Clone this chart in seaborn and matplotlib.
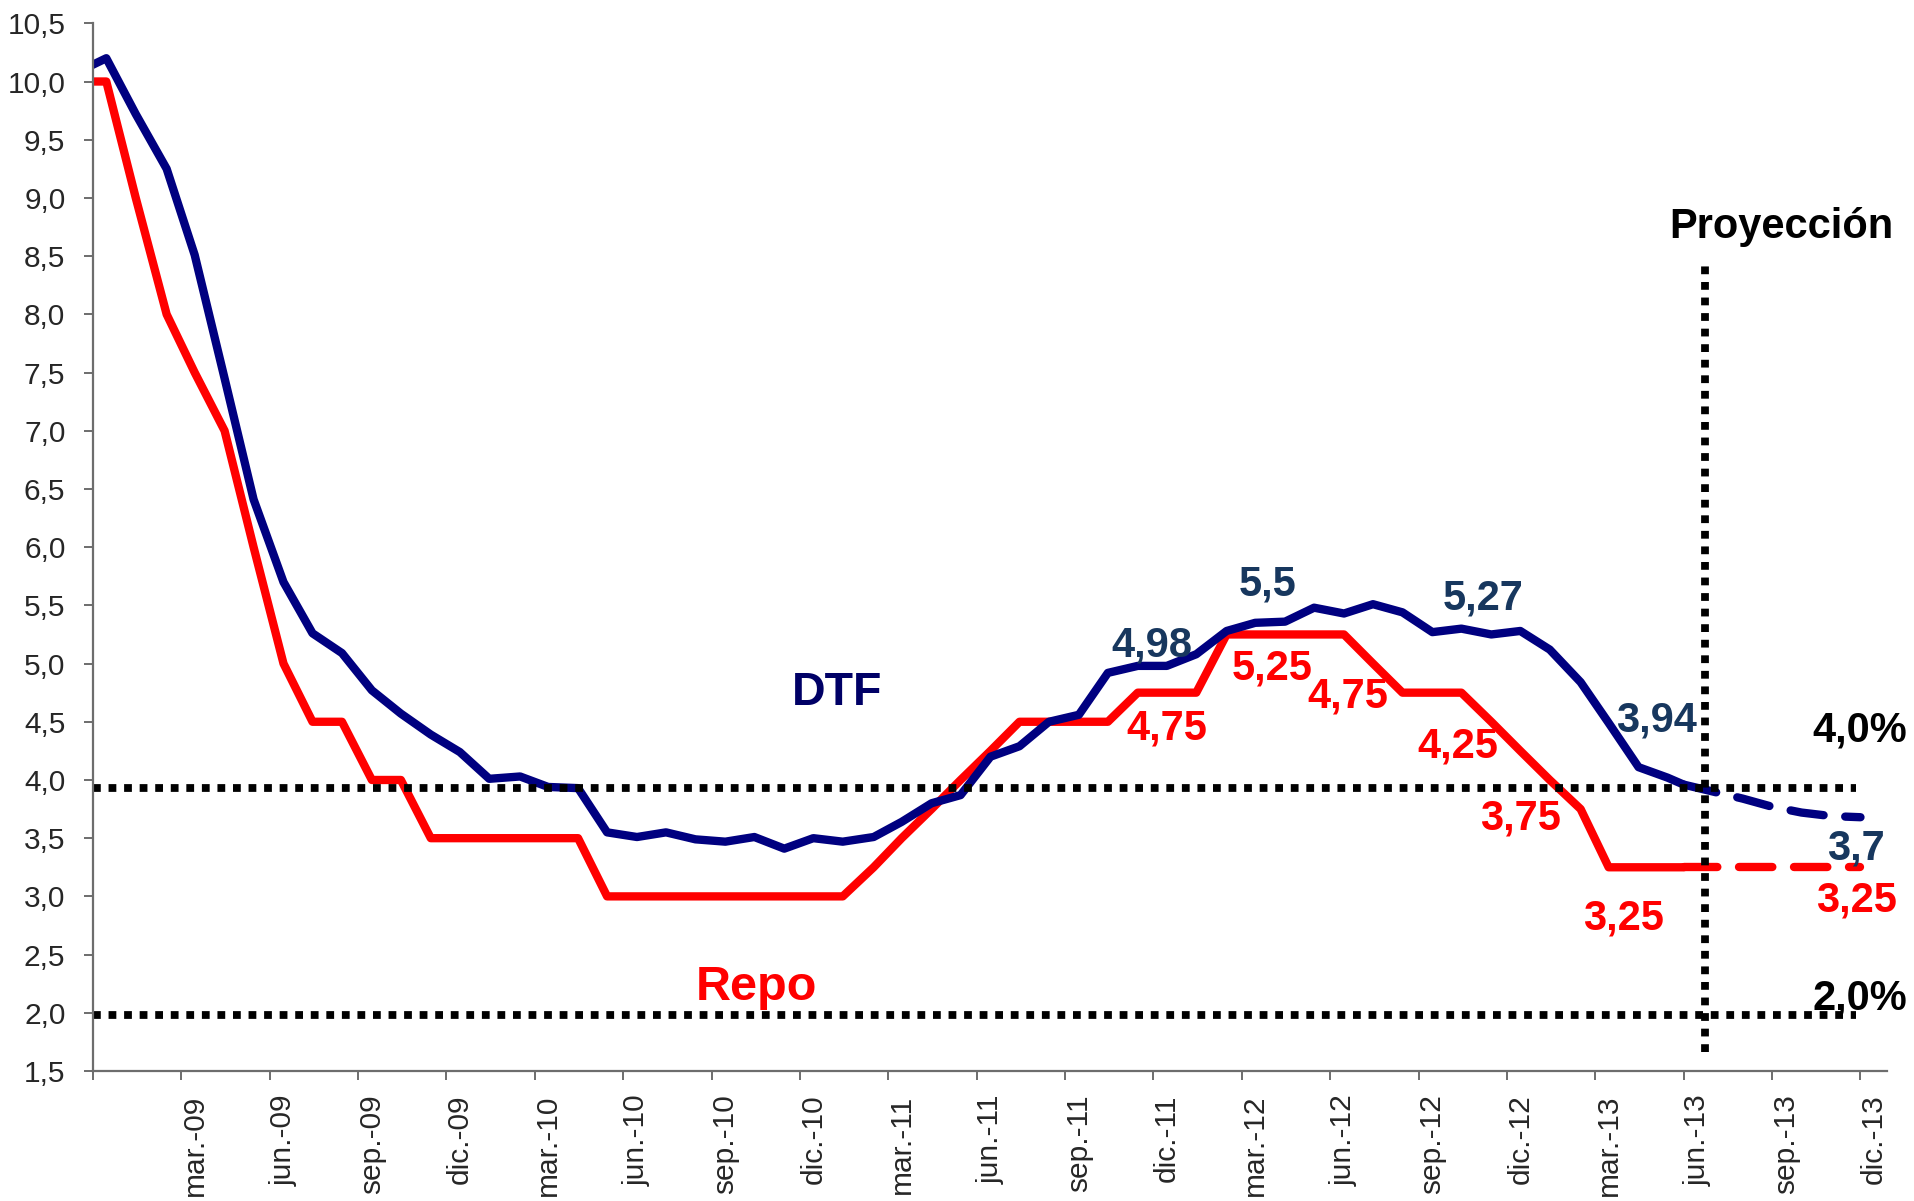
import numpy as np
import pandas as pd
import matplotlib
matplotlib.use("Agg")
import matplotlib.pyplot as plt
import seaborn as sns

# monthly data (mid-month observations), Nov-08 .. May-13
hist_months = pd.date_range("2008-11-01", "2013-05-01", freq="MS") + pd.Timedelta(days=14)
dtf_hist = [10.08, 10.20, 9.72, 9.25, 8.51, 7.45, 6.41, 5.70, 5.26, 5.09,
            4.77, 4.57, 4.39, 4.24, 4.01, 4.03, 3.94, 3.93, 3.55, 3.51,
            3.55, 3.49, 3.47, 3.51, 3.41, 3.50, 3.47, 3.51, 3.64, 3.80,
            3.87, 4.20, 4.29, 4.50, 4.56, 4.92, 4.98, 4.98, 5.08, 5.28,
            5.35, 5.36, 5.48, 5.43, 5.51, 5.44, 5.27, 5.30, 5.25, 5.28,
            5.12, 4.84, 4.49, 4.11, 4.02]
repo_hist = [10.0, 10.0, 9.0, 8.0, 7.5, 7.0, 6.0, 5.0, 4.5, 4.5,
             4.0, 4.0, 3.5, 3.5, 3.5, 3.5, 3.5, 3.5, 3.0, 3.0,
             3.0, 3.0, 3.0, 3.0, 3.0, 3.0, 3.0, 3.25, 3.5, 3.75,
             4.0, 4.25, 4.5, 4.5, 4.5, 4.5, 4.75, 4.75, 4.75, 5.25,
             5.25, 5.25, 5.25, 5.25, 5.0, 4.75, 4.75, 4.75, 4.5, 4.25,
             4.0, 3.75, 3.25, 3.25, 3.25]

# projection, Jun-13 .. Dec-13
proj_months = pd.date_range("2013-06-01", "2013-12-01", freq="MS")
dtf_proj = [3.96, 3.90, 3.84, 3.77, 3.72, 3.69, 3.68]
repo_proj = [3.25, 3.25, 3.25, 3.25, 3.25, 3.25, 3.25]

# reference levels
upper_ref = 3.93
lower_ref = 1.98
proj_date = pd.Timestamp("2013-06-23")
ref_end = pd.Timestamp("2013-11-26")

tick_months = pd.date_range("2009-03-01", "2013-12-01", freq="3MS") + pd.Timedelta(days=14)
tick_labels = ["mar.-09", "jun.-09", "sep.-09", "dic.-09", "mar.-10", "jun.-10",
               "sep.-10", "dic.-10", "mar.-11", "jun.-11", "sep.-11", "dic.-11",
               "mar.-12", "jun.-12", "sep.-12", "dic.-12", "mar.-13", "jun.-13",
               "sep.-13", "dic.-13"]
boundary_months = pd.date_range("2008-12-01", "2013-12-01", freq="3MS")
y_ticks = np.arange(1.5, 10.51, 0.5)

BLUE = "#000080"
RED = "#FF0000"
LABEL_BLUE = "#17375E"


def month_pos(dates):
    """months elapsed since 1 Dec 2008 (uniform month width like the category axis)"""
    d = pd.DatetimeIndex(dates)
    return ((d.year - 2008) * 12 + d.month - 12 + (d.day - 1) / d.days_in_month).to_numpy(dtype=float)


sns.set_style("white")
plt.rcParams["font.family"] = ["Liberation Sans", "DejaVu Sans"]

W, H = 1915, 1201
fig = plt.figure(figsize=(W / 100, H / 100), dpi=100)
ax = fig.add_axes([93 / W, 1 - 1071 / H, (1887 - 93) / W, (1071 - 23.3) / H])

x_hist = month_pos(hist_months)
x_proj = month_pos(proj_months)

# solid historical lines (joined to the first projected month)
sns.lineplot(x=np.append(x_hist, x_proj[0]), y=repo_hist + repo_proj[:1], ax=ax,
             color=RED, linewidth=6, sort=False)
sns.lineplot(x=np.append(x_hist, x_proj[0]), y=dtf_hist + dtf_proj[:1], ax=ax,
             color=BLUE, linewidth=6, sort=False)
# dashed projections
for vals, col in [(repo_proj, RED), (dtf_proj, BLUE)]:
    sns.lineplot(x=x_proj, y=vals, ax=ax, color=col, linewidth=6, sort=False)
    ln = ax.lines[-1]
    ln.set_dashes((4, 2.6))
    ln.set_dash_capstyle("round")

# dotted reference lines
dot = (0, (1, 1))
ref_x = month_pos([pd.Timestamp("2008-12-01"), ref_end])
ax.plot(ref_x, [upper_ref, upper_ref], color="black", lw=5.6, linestyle=dot,
        dash_capstyle="butt")
ax.plot(ref_x, [lower_ref, lower_ref], color="black", lw=5.6, linestyle=dot,
        dash_capstyle="butt")
px = month_pos([proj_date])[0]
ax.plot([px, px], [1.66, 8.44], color="black", lw=5.6, linestyle=dot,
        dash_capstyle="butt")

ax.set_xlim(0, 60.9)
ax.set_ylim(1.5, 10.5)
ax.set_yticks(y_ticks)
ax.set_yticklabels([f"{v:.1f}".replace(".", ",") for v in y_ticks])
ax.set_xticks(month_pos(boundary_months))
ax.set_xticklabels([])
ax.set_xticks(month_pos(tick_months), minor=True)
ax.set_xticklabels(tick_labels, minor=True, rotation=90)

for side in ["top", "right"]:
    ax.spines[side].set_visible(False)
for side in ["left", "bottom"]:
    ax.spines[side].set_color("#6d6d6d")
    ax.spines[side].set_linewidth(1.6)
ax.tick_params(axis="y", which="major", direction="out", length=6.8, width=1.4,
               color="#6d6d6d", pad=13, labelsize=21.5, left=True)
ax.tick_params(axis="x", which="major", direction="out", length=6.5, width=1.4,
               color="#6d6d6d", bottom=True)
ax.tick_params(axis="x", which="minor", length=0, pad=17, labelsize=21.5, bottom=True)
ax.set_xlabel("")
ax.set_ylabel("")

# annotations: (text, x px, baseline px, colour, size)
notes = [
    ("DTF", 836.7, 705, "#000066", 33.5),
    ("Repo", 756.7, 1000, RED, 35),
    ("4,98", 1151.7, 656.7, LABEL_BLUE, 30),
    ("5,5", 1268, 595, LABEL_BLUE, 30),
    ("5,27", 1483, 610, LABEL_BLUE, 30),
    ("3,94", 1656.7, 731.7, LABEL_BLUE, 30),
    ("3,7", 1856, 860, LABEL_BLUE, 30),
    ("4,75", 1166.7, 740, RED, 30),
    ("5,25", 1271.7, 680, RED, 30),
    ("4,75", 1348, 708, RED, 30),
    ("4,25", 1458, 758, RED, 30),
    ("3,75", 1520, 830, RED, 30),
    ("3,25", 1623, 930, RED, 30),
    ("3,25", 1856, 911.7, RED, 30),
    ("4,0%", 1860, 741.7, "black", 30),
    ("2,0%", 1860, 1010, "black", 30),
    ("Proyección", 1781, 238, "black", 30),
]
for txt, xp, yp, col, size in notes:
    fig.text(xp / W, 1 - yp / H, txt, ha="center", va="baseline", color=col,
             fontsize=size, fontweight="bold")

fig.savefig("out.png", dpi=100)
